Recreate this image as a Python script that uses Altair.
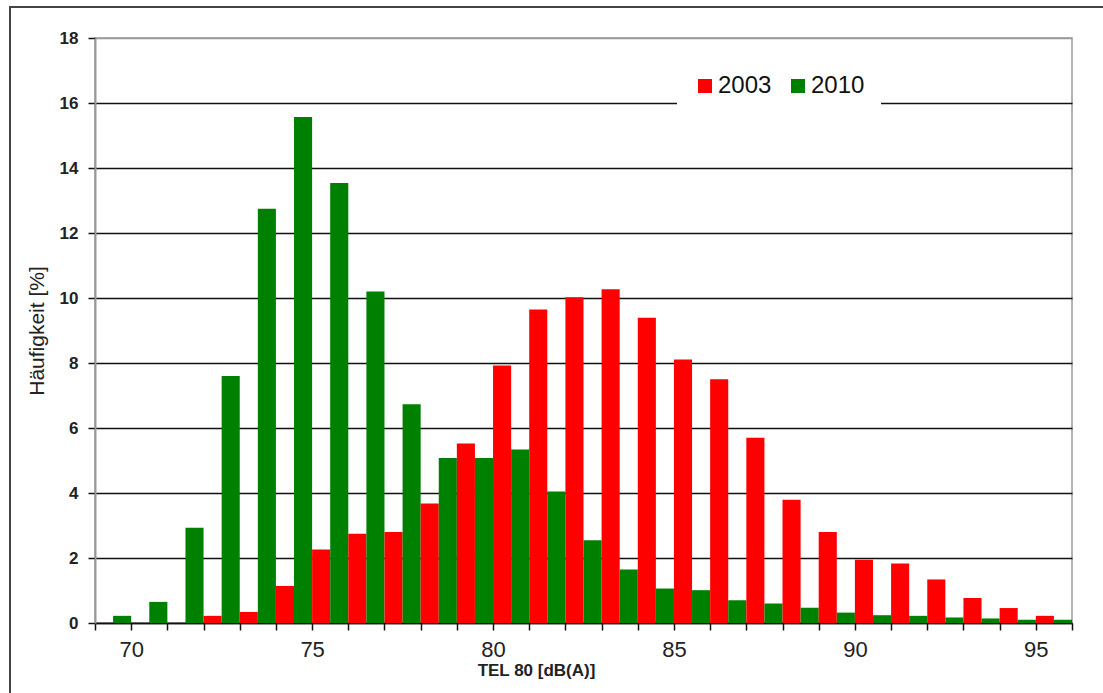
import altair as alt
import pandas as pd

# Bin lower edges (dB(A)); each bin spans [bin, bin+1]
bins = list(range(69, 96))
red_2003 = [0, 0, 0, 0.22, 0.34, 1.14, 2.26, 2.75, 2.8, 3.68, 5.52, 7.92, 9.65, 10.02,
            10.27, 9.39, 8.11, 7.50, 5.70, 3.79, 2.80, 1.95, 1.83, 1.34, 0.77, 0.46, 0.22]
green_2010 = [0.22, 0.65, 2.93, 7.6, 12.75, 15.57, 13.54, 10.2, 6.73, 5.08, 5.08, 5.34, 4.05,
              2.55, 1.65, 1.06, 1.01, 0.70, 0.60, 0.47, 0.32, 0.24, 0.22, 0.17, 0.14, 0.10, 0.10]
years = ["2003", "2010"]
colors = ["#ff0000", "#008000"]
x_ticks = list(range(69, 97))
y_ticks = list(range(0, 19, 2))

rows = []
for b, r, g in zip(bins, red_2003, green_2010):
    if r > 0:
        rows.append({"bin": b, "year": "2003", "value": r})
    if g > 0:
        rows.append({"bin": b, "year": "2010", "value": g})
df = pd.DataFrame(rows)

FONT = "Liberation Sans"

bars = alt.Chart(df).transform_calculate(
    lo="datum.bin + (datum.year === '2010' ? 0.5 : 0)",
    hi="datum.bin + (datum.year === '2010' ? 1 : 0.5)",
).mark_rect().encode(
    x=alt.X("lo:Q",
            scale=alt.Scale(domain=[69, 96], nice=False, zero=False),
            axis=alt.Axis(values=x_ticks,
                          labelExpr="datum.value % 5 === 0 ? datum.label : ''",
                          title="TEL 80 [dB(A)]",
                          titleFont=FONT, titleFontSize=17, titleFontWeight="bold",
                          titleColor="#222",
                          titleX=441, titleY=47, titleAlign="center", titleBaseline="middle",
                          labelFont=FONT, labelFontSize=22, labelColor="#222",
                          labelPadding=9, labelFlush=False, labelOverlap=False,
                          tickSize=7, tickColor="#111", tickWidth=1.5,
                          domainColor="#111", domainWidth=1.5, grid=False)),
    x2="hi:Q",
    y=alt.Y("value:Q",
            scale=alt.Scale(domain=[0, 18], nice=False),
            axis=alt.Axis(values=y_ticks, title="Häufigkeit [%]",
                          titleFont=FONT, titleFontSize=21, titleFontWeight="normal",
                          titleColor="#222", titlePadding=12,
                          labelFont=FONT, labelFontSize=17, labelFontWeight="bold",
                          labelColor="#222", labelPadding=10,
                          tickSize=7, tickColor="#111", tickWidth=1.5,
                          domainColor="#999", domainWidth=2,
                          grid=True, gridWidth=1.5,
                          gridColor={"condition": {"test": "datum.value === 18", "value": "#999"},
                                     "value": "#111"})),
    y2=alt.datum(0),
    color=alt.Color("year:N",
                    scale=alt.Scale(domain=years, range=colors),
                    legend=alt.Legend(title=None, orient="none", legendX=582, legendY=20,
                                      direction="horizontal", symbolType="square",
                                      symbolSize=196, symbolStrokeWidth=0,
                                      labelFont=FONT, labelFontSize=24, labelColor="#111",
                                      labelOffset=1, columnPadding=14,
                                      padding=16, fillColor="white")),
)

frame_left = alt.Chart(alt.Data(values=[{}])).mark_rule(color="#444", strokeWidth=2).encode(
    x=alt.value(-85), y=alt.value(-31), y2=alt.value(660))
frame_top = alt.Chart(alt.Data(values=[{}])).mark_rule(color="#444", strokeWidth=2).encode(
    x=alt.value(-86), x2=alt.value(1015), y=alt.value(-31))

chart = alt.layer(bars, frame_left, frame_top).properties(
    width=977, height=585,
    autosize=alt.AutoSizeParams(type="none"),
    padding={"left": 95, "top": 38, "right": 31, "bottom": 70},
    background="white",
).configure_view(stroke="#999", strokeWidth=1.5)

chart.save("out.html", embed_options={"renderer": "svg", "actions": False})
